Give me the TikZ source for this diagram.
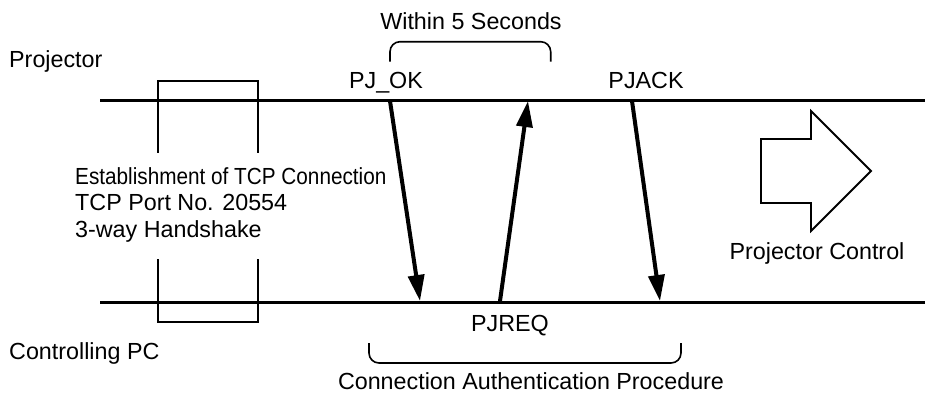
\documentclass[tikz,border=0pt]{standalone}
\usepackage{fontspec}
\setmainfont{Liberation Sans}
\newfontfamily\condf{Liberation Sans}[FakeStretch=0.89]
\usetikzlibrary{arrows.meta}
\tikzset{
  lbl/.style={inner sep=0pt, font=\fontsize{23.3}{26.5}\selectfont},
  timeline/.style={line width=3pt},
  thinline/.style={line width=1.8pt},
  msg/.style={line width=4pt, -{Triangle[length=26pt,width=16pt]}},
  brace/.style={line width=1.6pt, rounded corners=10pt},
}
\begin{document}
\begin{tikzpicture}[x=1pt,y=-1pt]
\useasboundingbox (0,0) rectangle (925,394);
% timelines
\coordinate (t0) at (100,100);
\coordinate (t1) at (925,100);
\coordinate (b0) at (100,302);
\coordinate (b1) at (925,302);
\draw[timeline] (t0) -- (t1);
\draw[timeline] (b0) -- (b1);
% TCP box
\draw[thinline] (158,100) -- (158,81) -- (258,81) -- (258,100);
\draw[thinline] (158,100) -- (158,153);
\draw[thinline] (258,100) -- (258,153);
\draw[thinline] (158,302) -- (158,322) -- (258,322) -- (258,302);
\draw[thinline] (158,302) -- (158,259);
\draw[thinline] (258,302) -- (258,259);
% messages
\coordinate (okA) at (390,101);
\coordinate (okB) at (420,301);
\coordinate (reqA) at (500,301);
\coordinate (reqB) at (528,101);
\coordinate (ackA) at (632,101);
\coordinate (ackB) at (660,301);
\draw[msg] (okA) -- (okB);
\draw[msg] (reqA) -- (reqB);
\draw[msg] (ackA) -- (ackB);
% braces
\draw[brace] (390,61.7) -- (390,41.7) -- (550.7,41.7) -- (550.7,61.7);
\draw[brace] (369,343) -- (369,363) -- (681,363) -- (681,343);
% big arrow
\draw[thinline] (761,139) -- (811,139) -- (811,111) -- (871,171) -- (811,231) -- (811,203) -- (761,203) -- cycle;
% labels
\node[lbl, anchor=base west] (proj) at (9,67) {Projector};
\node[lbl, anchor=base west] (pc) at (9,359) {Controlling PC};
\node[lbl, anchor=base] (pjok) at (386,88.5) {PJ\_OK};
\node[lbl, anchor=base] (pjack) at (646,88.5) {PJACK};
\node[lbl, anchor=base] (pjreq) at (510,331) {PJREQ};
\node[lbl, anchor=base] (within) at (471,29.5) {Within 5 Seconds};
\node[lbl, anchor=base] (auth) at (531,389) {Connection Authentication Procedure};
\node[lbl, anchor=base] (ctrl) at (817,259.5) {Projector Control};
\node[lbl, anchor=base west] (est1) at (75,184) {\condf Establishment of TCP Connection};
\node[lbl, anchor=base west] (est2) at (75,210.5) {TCP Port No. 20554};
\node[lbl, anchor=base west] (est3) at (75,237) {3-way Handshake};
\end{tikzpicture}
\end{document}
